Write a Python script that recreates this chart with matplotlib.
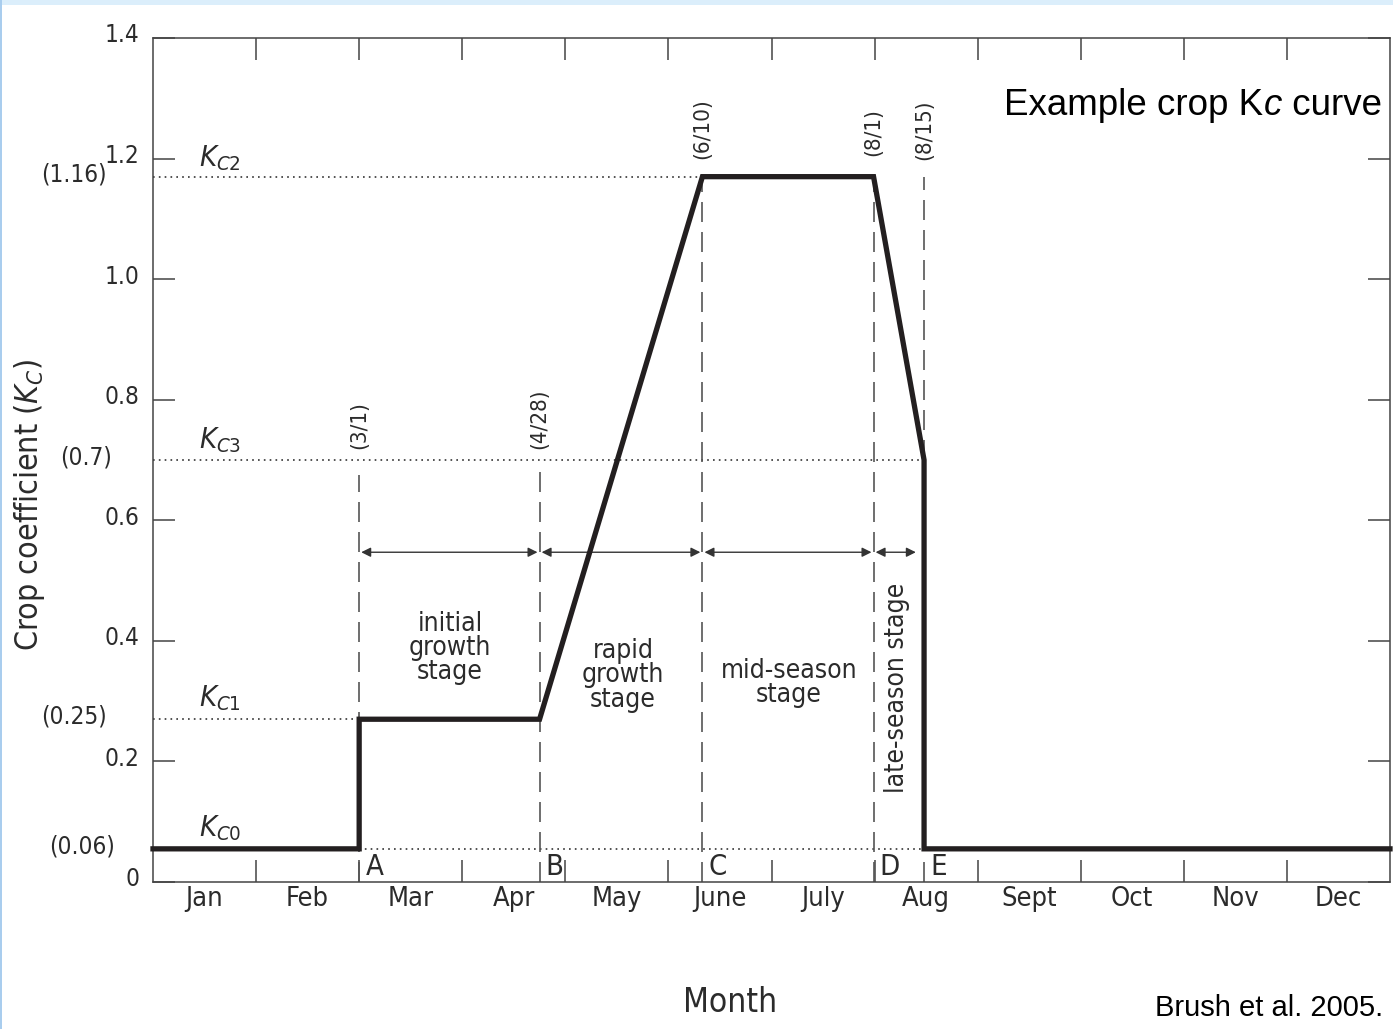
import matplotlib
matplotlib.use('Agg')
import matplotlib.pyplot as plt
from matplotlib.patches import Rectangle
from matplotlib.transforms import ScaledTranslation

plt.rcParams['font.family'] = ['DejaVu Sans']
plt.rcParams['font.stretch'] = 'condensed'
plt.rcParams['mathtext.fontset'] = 'custom'
plt.rcParams['mathtext.rm'] = 'DejaVu Sans'
plt.rcParams['mathtext.it'] = 'DejaVu Sans:italic'

# data
MONTHS = ['Jan', 'Feb', 'Mar', 'Apr', 'May', 'June', 'July', 'Aug', 'Sept', 'Oct', 'Nov', 'Dec']
STAGE_DATES = ['(3/1)', '(4/28)', '(6/10)', '(8/1)', '(8/15)']
STAGE_X = [2.0, 3.75, 5.33, 6.99, 7.48]      # months from Jan 1
STAGE_LETTERS = ['A', 'B', 'C', 'D', 'E']
KC = [0.055, 0.27, 1.17, 0.70]              # Kc0..Kc3 as drawn
KC_TEXT = ['(0.06)', '(0.25)', '(1.16)', '(0.7)']
KC_NAMES = ['C0', 'C1', 'C2', 'C3']
STAGES = ['initial\ngrowth\nstage', 'rapid\ngrowth\nstage', 'mid-season\nstage', 'late-season stage']
YTICKS = [0, 0.2, 0.4, 0.6, 0.8, 1.0, 1.2, 1.4]
YTICK_LABELS = ['0', '0.2', '0.4', '0.6', '0.8', '1.0', '1.2', '1.4']

TXT = '#2b2b2b'
AX_C = '#444444'
W, H = 1393, 1029
fig = plt.figure(figsize=(W / 100, H / 100), dpi=100)
fig.patches.append(Rectangle((0, 1 - 5 / H), 1, 5 / H, transform=fig.transFigure,
                             facecolor='#dbeefb', edgecolor='none'))
fig.patches.append(Rectangle((0, 0), 2 / W, 1, transform=fig.transFigure,
                             facecolor='#a9cdee', edgecolor='none'))

ax = fig.add_axes([153 / W, 1 - 882 / H, 1237 / W, 844 / H])
ax.set_xlim(0, 12)
ax.set_ylim(0, 1.4)
for s in ax.spines.values():
    s.set_color(AX_C)
    s.set_linewidth(1.1)

# ticks: boundaries as inward marks, month names in the middle
ax.set_xticks(range(1, 12))
ax.set_xticklabels([])
ax.set_xticks([i + 0.5 for i in range(12)], minor=True)
ax.set_xticklabels(MONTHS, minor=True, fontsize=19.5, color=TXT)
ax.tick_params(axis='x', which='major', direction='in', length=16, width=1.1,
               color=AX_C, top=True, bottom=True)
ax.tick_params(axis='x', which='minor', length=0, pad=3)
ax.set_yticks(YTICKS)
ax.set_yticklabels(YTICK_LABELS, fontsize=17.5, color=TXT)
ax.tick_params(axis='y', direction='in', length=16, width=1.1, color=AX_C,
               left=True, right=True, pad=10)
off = ScaledTranslation(0, 5 / 100, fig.dpi_scale_trans)
for lab in ax.get_yticklabels():
    lab.set_transform(lab.get_transform() + off)

kc0, kc1, kc2, kc3 = KC
xa, xb, xc, xd, xe = STAGE_X

# dotted reference lines
dot = dict(color='#333333', lw=1.2, ls=(0, (1, 2.5)))
ax.plot([0, xc], [kc2, kc2], **dot)
ax.plot([0, xe], [kc3, kc3], **dot)
ax.plot([0, xa], [kc1, kc1], **dot)
ax.plot([xa, xe], [kc0, kc0], **dot)

# dashed stage lines
dash = dict(color='#555555', lw=1.2, ls=(0, (12, 6)))
ax.plot([xa, xa], [0, 0.675], **dash)
ax.plot([xb, xb], [0, 0.69], **dash)
ax.plot([xc, xc], [0, kc2], **dash)
ax.plot([xd, xd], [0, kc2], **dash)
ax.plot([xe, xe], [kc3, kc2], **dash)
ax.plot([xe, xe], [0, 0.035], **dash)

# Kc curve
curve_x = [0, xa, xa, xb, xc, xd, xe, xe, 12]
curve_y = [kc0, kc0, kc1, kc1, kc2, kc2, kc3, kc0, kc0]
ax.plot(curve_x, curve_y, color='#231f20', lw=3.8, solid_joinstyle='miter', clip_on=False, zorder=5)

# stage arrows
arrow_y = 0.547
bounds = [xa, xb, xc, xd, 7.42]
for x0, x1 in zip(bounds[:-1], bounds[1:]):
    ax.annotate('', xy=(x1 - 0.02, arrow_y), xytext=(x0 + 0.02, arrow_y),
                arrowprops=dict(arrowstyle='<|-|>', color='#333333', lw=1.0,
                                mutation_scale=14, shrinkA=0, shrinkB=0))

# stage texts
stage_pos = [(2.88, 0.388), (4.56, 0.343), (6.17, 0.33)]
for (x, y), t in zip(stage_pos, STAGES[:3]):
    ax.text(x, y, t, ha='center', va='center', fontsize=19, color=TXT, linespacing=0.92)
ax.text(7.22, 0.322, STAGES[3], ha='center', va='center', fontsize=19, color=TXT, rotation=90)

# dates
date_y = [0.758, 0.768, 1.25, 1.244, 1.247]
for x, y, t in zip(STAGE_X, date_y, STAGE_DATES):
    ax.text(x, y, t, rotation=90, ha='center', va='center', fontsize=16, color=TXT)

# point letters
for x, t in zip(STAGE_X, STAGE_LETTERS):
    ax.text(x + 0.06, 0.025, t, ha='left', va='center', fontsize=21, color=TXT)

# Kc names and values
kc_name_y = [0.0895, 0.305, 1.20, 0.733]
for y, n in zip(kc_name_y, KC_NAMES):
    ax.text(0.45, y, r'$K_{\mathit{%s}}$' % n, ha='left', va='center', fontsize=21, color=TXT)
kc_text_x = [-0.031, -0.037, -0.037, -0.033]
for x, y, t in zip(kc_text_x, KC, KC_TEXT):
    ax.text(x, y + 0.004, t, transform=ax.get_yaxis_transform(), ha='right', va='center',
            fontsize=17.5, color=TXT)

# title with italic c, built right to left
fig.canvas.draw()
r = fig.canvas.get_renderer()
x_right = 1382
ty = 1 - 115 / H
for piece, style in [(' curve', 'normal'), ('c', 'italic'), ('Example crop K', 'normal')]:
    t = fig.text(x_right / W, ty, piece, ha='right', va='baseline', fontsize=26.5, color='black',
                 family='Liberation Sans', fontstretch='normal', style=style)
    bb = t.get_window_extent(r)
    x_right = bb.x0
    if piece == 'c':
        x_right -= 1

fig.text(30 / W, 1 - 505 / H, r'Crop coefficient ($K_C$)', rotation=90, ha='center', va='center',
         fontsize=23, color=TXT)
fig.text(730 / W, 1 - 1003 / H, 'Month', ha='center', va='center', fontsize=24, color=TXT)
fig.text(1383 / W, 1 - 1008 / H, 'Brush et al. 2005.', ha='right', va='center',
         fontsize=21, family='Liberation Sans', fontstretch='normal', color='black')

fig.savefig('out.png', dpi=100, facecolor='white')
